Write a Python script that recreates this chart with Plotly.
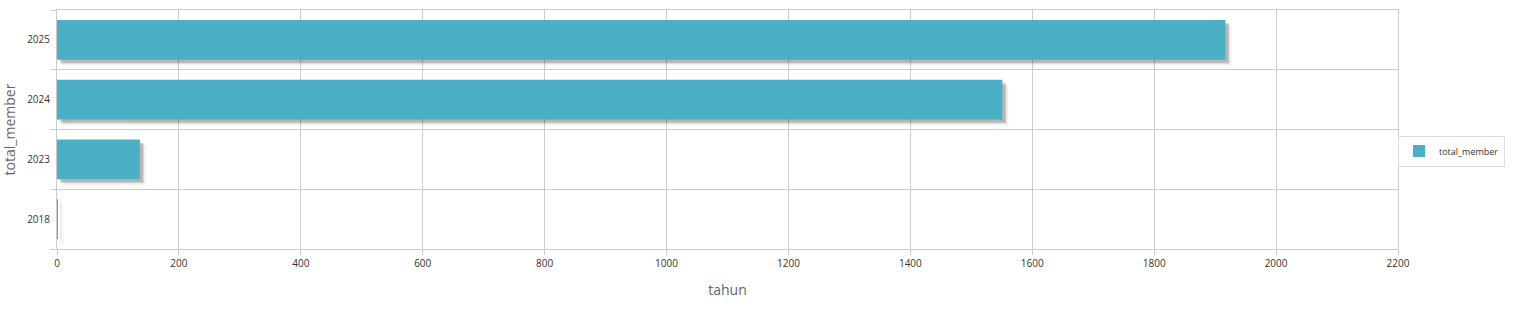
import plotly.graph_objects as go

years = ["2018", "2023", "2024", "2025"]
total_member = [1, 136, 1551, 1917]
x_ticks = list(range(0, 2201, 200))

BAR_COLOR = "#4BB0C6"
GRID = "#cccccc"
PX_PER_UNIT = 1341 / 2200.0
SHADOW_PX = 4

fig = go.Figure()

# drop shadow (styling only): same data, nudged right/down
for k, alpha in [(SHADOW_PX + 2, 0.05), (SHADOW_PX, 0.12), (SHADOW_PX - 1, 0.14)]:
    fig.add_trace(go.Bar(
        y=years, x=total_member, orientation="h",
        base=k / PX_PER_UNIT,
        width=0.667, offset=-0.3335 - k / 60.0,
        marker=dict(color=f"rgba(0,0,0,{alpha})", line=dict(width=0)),
        showlegend=False, hoverinfo="skip",
    ))

fig.add_trace(go.Bar(
    y=years, x=total_member, orientation="h",
    name="total_member", width=0.667,
    marker=dict(color=BAR_COLOR, line=dict(width=0)),
))

fig.update_layout(
    width=1519, height=310,
    margin=dict(l=57, r=121, t=10, b=61, autoexpand=False),
    paper_bgcolor="white", plot_bgcolor="white",
    barmode="overlay",
    font=dict(family="Open Sans, sans-serif", color="#333"),
    legend=dict(
        x=1.0, xanchor="left", y=0.41, yanchor="middle",
        bgcolor="white", bordercolor="#dddddd", borderwidth=1,
        font=dict(size=9, color="#333"),
        itemwidth=30, tracegroupgap=0,
    ),
    xaxis=dict(
        range=[0, 2200], tickvals=x_ticks, ticktext=[str(v) for v in x_ticks],
        showgrid=True, gridcolor=GRID, gridwidth=1,
        showline=True, linecolor=GRID, linewidth=1, mirror=True,
        ticks="outside", ticklen=5, tickcolor=GRID,
        tickfont=dict(size=10, color="#333"),
        zeroline=False,
        title=dict(text="tahun", font=dict(size=14, color="#666"), standoff=16),
    ),
    yaxis=dict(
        type="category", categoryorder="array", categoryarray=years,
        range=[-0.5, 3.5],
        showgrid=True, gridcolor=GRID, gridwidth=1,
        showline=True, linecolor=GRID, linewidth=1, mirror=True,
        ticks="outside", ticklen=6, tickcolor=GRID, tickson="boundaries",
        ticklabelstandoff=4,
        tickfont=dict(size=10, color="#333"),
        title=dict(text="total_member", font=dict(size=14, color="#666"), standoff=12),
    ),
)

fig.write_html("out.html")
